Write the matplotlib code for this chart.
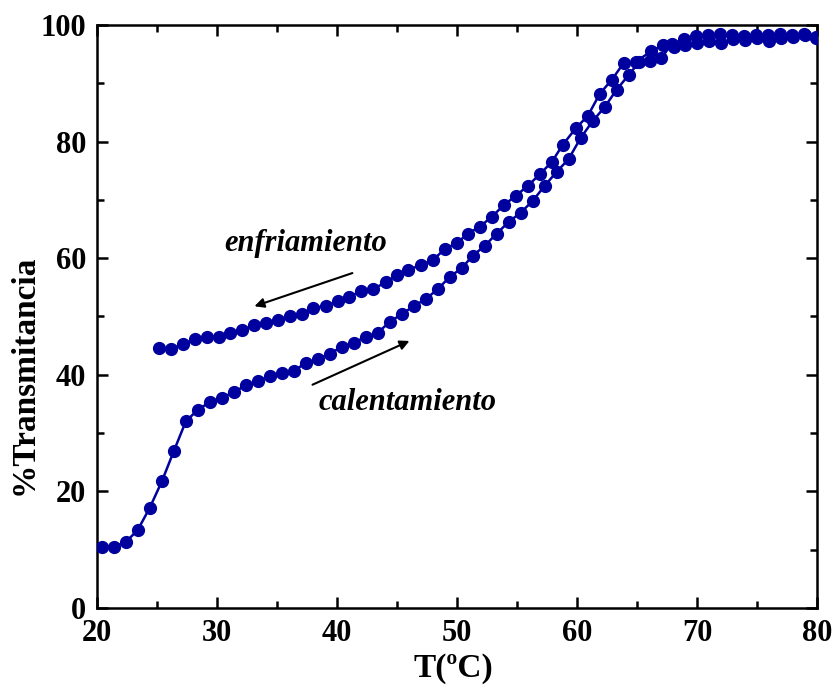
import matplotlib as mpl
mpl.use('Agg')
import matplotlib.pyplot as plt
import matplotlib.ticker as tick

# calentamiento (heating run)
T_cal = [20.4, 21.4, 22.4, 23.4, 24.4, 25.4, 26.4, 27.4, 28.4, 29.4,
         30.4, 31.4, 32.4, 33.4, 34.4, 35.4, 36.4, 37.4, 38.4, 39.4,
         40.4, 41.4, 42.4, 43.4, 44.4, 45.4, 46.4, 47.4, 48.4, 49.4,
         50.4, 51.3, 52.3, 53.3, 54.3, 55.3, 56.3, 57.3, 58.3, 59.3,
         60.3, 61.3, 62.3, 63.3, 64.3, 65.2, 66.1, 67.0, 67.9, 68.9,
         69.9, 70.9, 71.9, 72.9, 73.9, 74.9, 75.9, 76.9, 77.9, 78.9, 79.9]
Tr_cal = [10.5, 10.5, 11.3, 13.4, 17.2, 21.7, 26.9, 32.0, 34.0, 35.3,
          36.1, 37.0, 38.2, 38.9, 39.8, 40.3, 40.7, 42.0, 42.7, 43.6,
          44.8, 45.5, 46.5, 47.2, 49.1, 50.4, 51.8, 53.0, 54.7, 56.8,
          58.3, 60.4, 62.1, 64.2, 66.2, 67.8, 69.8, 72.4, 74.8, 77.0,
          80.6, 83.5, 85.9, 88.9, 91.4, 93.7, 93.8, 94.3, 96.7, 97.6,
          98.1, 98.2, 98.4, 98.3, 98.1, 98.3, 98.2, 98.4, 98.2, 98.5, 98.0]

# enfriamiento (cooling run)
T_enf = [25.2, 26.2, 27.2, 28.2, 29.2, 30.2, 31.1, 32.1, 33.1, 34.1,
         35.1, 36.1, 37.1, 38.0, 39.1, 40.1, 41.0, 42.0, 43.0, 44.1,
         45.0, 45.9, 47.0, 48.0, 49.0, 50.0, 50.9, 51.9, 52.9, 53.9,
         54.9, 55.9, 56.9, 57.9, 58.8, 59.9, 60.9, 61.9, 62.9, 63.9,
         64.9, 66.2, 67.2, 68.1, 69.0, 70.0, 71.0, 72.0, 73.0, 74.0,
         75.0, 76.0, 77.0, 78.0, 79.0, 79.9]
Tr_enf = [44.6, 44.4, 45.3, 46.1, 46.5, 46.5, 47.2, 47.7, 48.5, 48.9,
          49.4, 50.1, 50.4, 51.5, 51.8, 52.7, 53.3, 54.4, 54.7, 55.9,
          57.1, 58.0, 58.8, 59.7, 61.6, 62.6, 64.2, 65.4, 67.1, 69.1,
          70.7, 72.4, 74.4, 76.5, 79.4, 82.3, 84.4, 88.2, 90.6, 93.5,
          93.7, 95.5, 96.6, 96.2, 96.6, 96.9, 97.2, 96.9, 97.6, 97.4,
          97.7, 97.3, 97.8, 98.0, 98.3, 97.8]

plt.rcParams['font.family'] = ['Liberation Serif', 'DejaVu Serif']
plt.rcParams['font.weight'] = 'bold'

fig = plt.figure(figsize=(8.34, 6.88), dpi=100)
ax1 = fig.add_axes([0.1163, 0.1163, 0.8633, 0.8474])

col = '#00009E'
ax1.plot(T_cal, Tr_cal, '-o', color=col, lw=1.8, ms=8.5, zorder=3)
ax1.plot(T_enf, Tr_enf, '-o', color=col, lw=1.8, ms=8.5, zorder=3)

ax1.set_xlim(20, 80)
ax1.set_ylim(0, 100)
ax1.xaxis.set_major_locator(tick.MultipleLocator(10))
ax1.xaxis.set_minor_locator(tick.MultipleLocator(5))
ax1.yaxis.set_major_locator(tick.MultipleLocator(20))
ax1.yaxis.set_minor_locator(tick.MultipleLocator(10))
ax1.tick_params(which='major', direction='in', top=True, right=True, length=8, width=1.8, pad=8, labelsize=22)
ax1.tick_params(which='minor', direction='in', top=True, right=True, length=5, width=1.8)
for s in ax1.spines.values():
    s.set_linewidth(1.8)
for lab in ax1.get_xticklabels() + ax1.get_yticklabels():
    lab.set_fontweight('bold')

ax1.set_xlabel('T(ºC)', fontsize=24, fontweight='bold')
ax1.xaxis.set_label_coords(0.495, -0.078)
ax1.set_ylabel('%Transmitancia', fontsize=24, fontweight='bold')
ax1.yaxis.set_label_coords(-0.08, 0.40)

# etiquetas y flechas de sentido
ax1.text(37.4, 62.6, 'enfriamiento', fontsize=22, style='italic', fontweight='bold', ha='center', va='center')
ax1.annotate('', xy=(32.9, 51.6), xytext=(41.5, 57.6),
             arrowprops=dict(arrowstyle='-|>', color='k', lw=1.5, mutation_scale=14))
ax1.text(45.9, 35.2, 'calentamiento', fontsize=22, style='italic', fontweight='bold', ha='center', va='center')
ax1.annotate('', xy=(46.25, 46.0), xytext=(37.75, 38.1),
             arrowprops=dict(arrowstyle='-|>', color='k', lw=1.5, mutation_scale=14))

plt.savefig('out.png', dpi=100)
